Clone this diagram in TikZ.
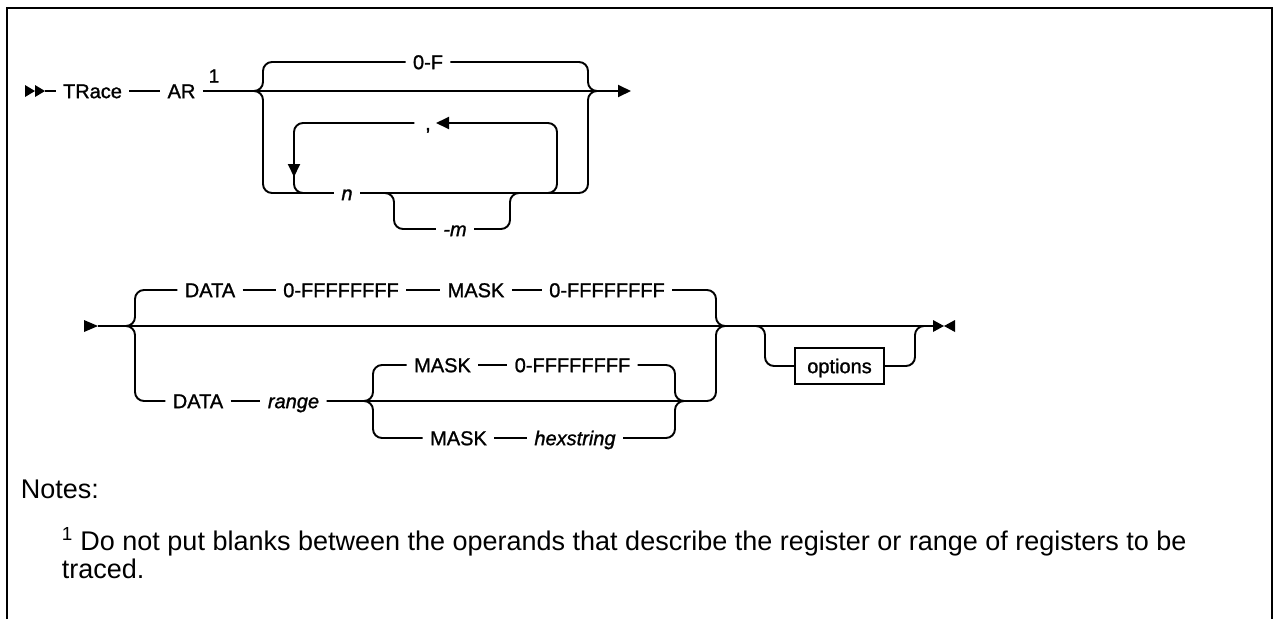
\documentclass[tikz,border=0pt]{standalone}
\usepackage{fontspec}
\setmainfont{Liberation Sans}
\newfontfamily\labfont[FakeBold=1.2]{Liberation Sans}
\usetikzlibrary{arrows.meta}
\begin{document}
\begin{tikzpicture}[x=1pt,y=-1pt,
  line width=1.9pt,
  rc/.style={rounded corners=9pt},
  lab/.style={font=\labfont\fontsize{20}{24}\selectfont, inner xsep=6.5pt, inner ysep=0pt, text height=14.3pt, text depth=0pt},
  ital/.style={lab, font=\labfont\fontsize{20}{24}\selectfont\itshape},
  supl/.style={font=\labfont\fontsize{19}{20}\selectfont, inner sep=0pt},
  notefont/.style={font=\fontsize{27}{30}\selectfont, inner sep=0pt},
  optbox/.style={lab, draw, line width=1.5pt, minimum width=89pt, minimum height=36pt, text height=14.3pt},
  tip/.style={-{Triangle[length=13pt,width=12pt]}}
]
\useasboundingbox (0,0) rectangle (1274,619);
% frame
\draw[line width=2.2pt] (7,619) -- (7,8) -- (1272,8) -- (1272,619);

% ---------- row 1 ----------
\coordinate (s1) at (45,91);
\fill (25,85) -- (35,91) -- (25,97) -- cycle;
\fill (35,85) -- (45,91) -- (35,97) -- cycle;
\node[lab] (trace) at (92.5,91) {TRace};
\node[lab] (ar) at (181.5,91) {AR};
\node[supl] (fn1) at (214,76) {1};
\node[lab] (zf) at (428,62) {0-F};
\node[lab, inner xsep=10pt] (comma) at (428,123) {,};
\node[ital] (n) at (347,193) {n};
\node[ital] (m) at (455,229) {-m};
\coordinate (b1l) at (263,91);
\coordinate (b1r) at (588,91);
\coordinate (end1) at (631,91);
\coordinate (lpl) at (294,193);
\coordinate (lpr) at (557,193);
\coordinate (ltip) at (436,123);
\coordinate (ldtip) at (294,177);
\coordinate (ml) at (394,193);
\coordinate (mr) at (510,193);

\draw (s1) -- (trace);
\draw (trace) -- (ar);
\draw[tip] (ar) -- (end1);
% 0-F branch
\draw[rc] ([xshift=-9pt]b1l) -- (b1l) |- (zf.west);
\draw[rc] (zf.east) -| (b1r) -- ([xshift=9pt]b1r);
% n branch
\draw[rc] ([xshift=-9pt]b1l) -- (b1l) |- (n.west);
\draw[rc] (n.east) -| (b1r) -- ([xshift=9pt]b1r);
% repeat loop
\draw[rc,tip] ([xshift=-9pt]lpr) -- (lpr) |- (ltip);
\draw[rc,tip] (comma.west) -| (ldtip);
\draw[rc] ([yshift=9pt]ldtip) -- (lpl) -- ([xshift=9pt]lpl);
% -m branch
\draw[rc] ([xshift=-9pt]ml) -- (ml) |- (m.west);
\draw[rc] (m.east) -| (mr) -- ([xshift=9pt]mr);

% ---------- row 2 ----------
\coordinate (s2) at (98,326);
\fill (s2) -- ++(-14,-6) -- ++(0,12) -- cycle;
\coordinate (e2) at (944,326);
\fill (e2) -- ++(-11,-6) -- ++(0,12) -- cycle;
\fill (e2) -- ++(11,-6) -- ++(0,12) -- cycle;
\coordinate (b2l) at (135,326);
\coordinate (b2r) at (716,326);
\coordinate (ibl) at (373,401);
\coordinate (ibr) at (675,401);
\coordinate (ol) at (765,326);
\coordinate (or) at (915,326);

\node[lab] (d1) at (210,290) {DATA};
\node[lab] (h1) at (341,290) {0-FFFFFFFF};
\node[lab] (m1) at (476,290) {MASK};
\node[lab] (h2) at (607,290) {0-FFFFFFFF};
\node[lab] (d2) at (198,401) {DATA};
\node[ital] (rg) at (293.5,401) {range};
\node[lab] (m2) at (442.5,365) {MASK};
\node[lab] (h3) at (572.5,365) {0-FFFFFFFF};
\node[lab] (m3) at (458.5,438) {MASK};
\node[ital] (hs) at (575,438) {hexstring};
\node[optbox] (opt) at (839.5,366) {options};

\draw (s2) -- ([xshift=-11pt]e2);
% top alternative
\draw[rc] ([xshift=-9pt]b2l) -- (b2l) |- (d1.west);
\draw (d1) -- (h1);
\draw (h1) -- (m1);
\draw (m1) -- (h2);
\draw[rc] (h2.east) -| (b2r) -- ([xshift=9pt]b2r);
% bottom alternative
\draw[rc] ([xshift=-9pt]b2l) -- (b2l) |- (d2.west);
\draw (d2) -- (rg);
\draw[rc] (rg.east) -| (b2r) -- ([xshift=9pt]b2r);
% inner choice
\draw[rc] ([xshift=-9pt]ibl) -- (ibl) |- (m2.west);
\draw (m2) -- (h3);
\draw[rc] (h3.east) -| (ibr) -- ([xshift=9pt]ibr);
\draw[rc] ([xshift=-9pt]ibl) -- (ibl) |- (m3.west);
\draw (m3) -- (hs);
\draw[rc] (hs.east) -| (ibr) -- ([xshift=9pt]ibr);
% options
\draw[rc] ([xshift=-9pt]ol) -- (ol) |- (opt.west);
\draw[rc] (opt.east) -| (or) -- ([xshift=9pt]or);

% ---------- notes ----------
\node[notefont, anchor=base west] (notes) at (20,498) {Notes:};
\node[notefont, anchor=base west] (note1) at (61,550) {\textsuperscript{1} Do not put blanks between the operands that describe the register or range of registers to be};
\node[notefont, anchor=base west] (note2) at (61,578) {traced.};
\end{tikzpicture}
\end{document}
